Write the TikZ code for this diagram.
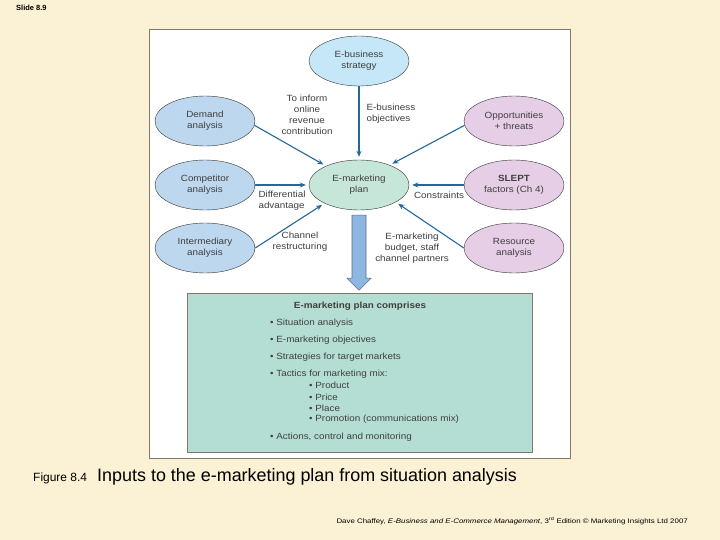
\documentclass[tikz,border=0pt]{standalone}
\usepackage{fontspec}
\setmainfont{Liberation Sans}
\newfontfamily\widefont[FakeStretch=1.2]{Liberation Sans}
\newfontfamily\figfont[FakeStretch=1.1]{Liberation Sans}
\usepackage{tikz}
\usetikzlibrary{arrows.meta}
\usetikzlibrary{calc}
\usetikzlibrary{shapes.geometric}

\definecolor{slidebg}{HTML}{FBF1D4}
\definecolor{panelline}{HTML}{7F7868}
\definecolor{leftfill}{HTML}{BDD7EE}
\definecolor{topfill}{HTML}{C6E7F8}
\definecolor{planfill}{HTML}{C6E6DA}
\definecolor{rightfill}{HTML}{E6CEE6}
\definecolor{boxfill}{HTML}{B4DED3}
\definecolor{arrowblue}{HTML}{23689B}
\definecolor{bigfill}{HTML}{8DB7E1}
\definecolor{figtext}{HTML}{3F3F3F}

\tikzset{
    oval/.style={ellipse, draw=black!80, thin, minimum width=100bp, minimum height=50bp,
        inner sep=0pt, align=center, text=figtext, font=\figfont\fontsize{9}{11}\selectfont},
    lbl/.style={align=center, text=figtext, font=\figfont\fontsize{9}{11}\selectfont},
    item/.style={anchor=west, inner sep=0pt, text=figtext, font=\figfont\fontsize{9}{11}\selectfont}
}

\begin{document}
\begin{tikzpicture}[x=1bp,y=-1bp]
        \fill[slidebg] (0,0) rectangle (720,540);
        \useasboundingbox (0,0) rectangle (720,540);
        \draw[panelline, fill=white] (149,29) rectangle (570,458);

        % the eight inputs
        \node[oval, fill=topfill]   (strategy) at (359,61)  {E-business\\strategy};
        \node[oval, fill=leftfill]  (demand)   at (205,121) {Demand\\analysis};
        \node[oval, fill=rightfill] (opp)      at (514,121) {Opportunities\\+ threats};
        \node[oval, fill=leftfill]  (comp)     at (205,185) {Competitor\\analysis};
        \node[oval, fill=planfill]  (plan)     at (359,185) {E-marketing\\plan};
        \node[oval, fill=rightfill] (slept)    at (514,185) {\textbf{SLEPT}\\factors (Ch 4)};
        \node[oval, fill=leftfill]  (inter)    at (205,248) {Intermediary\\analysis};
        \node[oval, fill=rightfill] (res)      at (514,248) {Resource\\analysis};

        \node[lbl] (inform)  at (307,115) {To inform\\online\\revenue\\contribution};
        \node[lbl, align=left, anchor=west] (objective) at (363,114) {E-business\\objectives};
        \node[lbl, align=left, anchor=west] (diff) at (255,201) {Differential\\advantage};
        \node[lbl] (constr)  at (439,195) {Constraints};
        \node[lbl] (channel) at (300,242) {Channel\\restructuring};
        \node[lbl] (budget)  at (412,248) {E-marketing\\budget, staff\\channel partners};

        \begin{scope}[>={Stealth[length=6bp,width=5bp]},
                every edge/.style={draw=arrowblue,line width=1.1bp,shorten >=3bp}]
            \path [->] (strategy.south) edge (plan.north);
            \path [->] (demand.-5)      edge (plan.150);
            \path [->] (opp.185)        edge (plan.33);
            \path [->] (comp.east)      edge (plan.west);
            \path [->] (slept.west)     edge (plan.east);
            \path [->] (inter.east)     edge (plan.208);
            \path [->] (res.west)       edge (plan.-25);
        \end{scope}

        % big arrow down to the box
        \draw[draw=bigfill!60!black, fill=bigfill, line width=0.6bp]
            ($(plan.south)+(-7,5)$) -- ++(0,63) -- ++(-5,0) -- ($(plan.south)+(0,80)$)
            -- ($(plan.south)+(12,68)$) -- ++(-5,0) -- ++(0,-63) -- cycle;

        \node[draw=panelline, fill=boxfill, minimum width=345bp, minimum height=159bp,
            inner sep=0pt] (box) at (359.5,372.5) {};
        \node[lbl, font=\figfont\fontsize{9}{11}\selectfont\bfseries] (title) at (360,306) {E-marketing plan comprises};
        \foreach \y/\txt in {323/Situation analysis, 340/E-marketing objectives,
                357/Strategies for target markets, 374/Tactics for marketing mix:,
                437/{Actions, control and monitoring}}
            \node[item] (item\y) at (270,\y) {\textbullet\ \txt};
        \foreach \y/\txt in {385/Product, 397/Price, 408/Place, 419/Promotion (communications mix)}
            \node[item] (sub\y) at (309,\y) {\textbullet\ \txt};

        % slide texts
        \node[anchor=west, inner sep=0pt, font=\fontsize{7.5}{8}\selectfont\bfseries] (slide) at (16,8) {Slide 8.9};
        \node[anchor=west, inner sep=0pt, font=\fontsize{12}{14}\selectfont] (fig) at (33,478) {Figure 8.4};
        \node[anchor=west, inner sep=0pt, font=\fontsize{18}{21}\selectfont] (caption) at (97,477)
            {Inputs to the e-marketing plan from situation analysis};
        \node[anchor=east, inner sep=0pt, font=\widefont\fontsize{6.6}{8}\selectfont] (credit) at (688,521)
            {Dave Chaffey, \textit{E-Business and E-Commerce Management}, 3\textsuperscript{rd} Edition \textcopyright{} Marketing Insights Ltd 2007};
    \end{tikzpicture}
\end{document}
